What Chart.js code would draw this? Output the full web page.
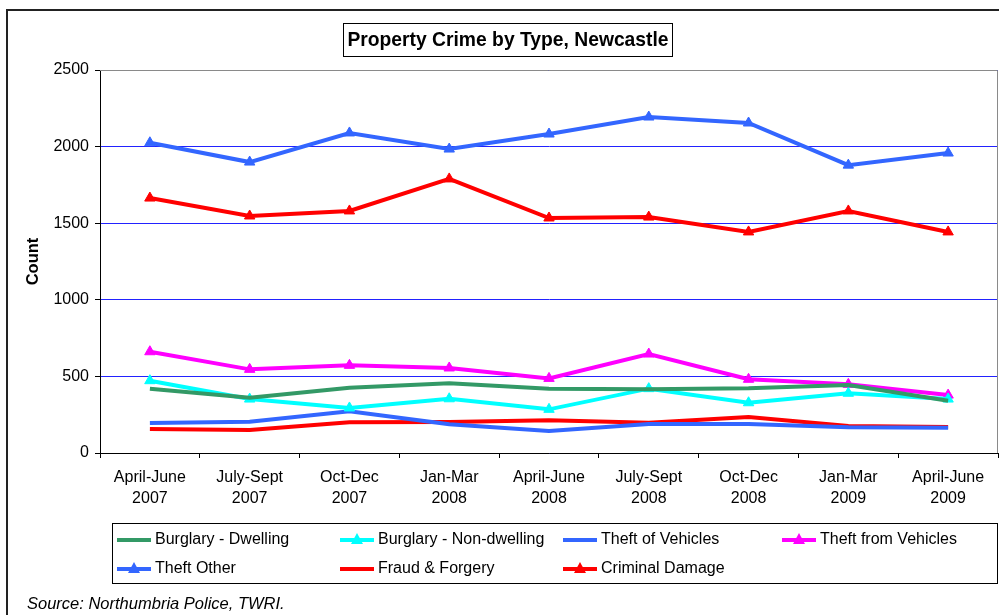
<!DOCTYPE html>
<html>
<head>
<meta charset="utf-8">
<script src="https://cdn.jsdelivr.net/npm/chart.js@4"></script>
<style>
  html, body { margin: 0; padding: 0; background: #fff; }
  #wrap { width: 999px; height: 615px; }
</style>
</head>
<body>
<div id="wrap"><canvas id="crimeChart" width="999" height="615"></canvas></div>
<script>
// Data
const quarters = [
  ["April-June", "2007"], ["July-Sept", "2007"], ["Oct-Dec", "2007"],
  ["Jan-Mar", "2008"], ["April-June", "2008"], ["July-Sept", "2008"],
  ["Oct-Dec", "2008"], ["Jan-Mar", "2009"], ["April-June", "2009"]
];
const burglaryDwelling = [420, 361, 426, 455, 420, 416, 422, 444, 341];
const burglaryNonDwelling = [472, 352, 294, 354, 285, 420, 328, 390, 352];
const theftOfVehicles = [196, 204, 272, 187, 144, 189, 189, 168, 165];
const theftFromVehicles = [661, 546, 572, 555, 487, 646, 481, 448, 378];
const theftOther = [2025, 1899, 2089, 1984, 2082, 2193, 2154, 1879, 1958];
const fraudForgery = [157, 150, 200, 202, 213, 198, 235, 176, 170];
const criminalDamage = [1664, 1547, 1580, 1789, 1534, 1540, 1443, 1580, 1443];
const yTicks = [0, 500, 1000, 1500, 2000, 2500];

const titleText = "Property Crime by Type, Newcastle";
const sourceText = "Source: Northumbria Police, TWRI.";
const FONT = "'Liberation Sans', Arial, sans-serif";

function series(label, data, color, marker) {
  return {
    label: label,
    data: data,
    borderColor: color,
    backgroundColor: color,
    borderWidth: 4,
    pointStyle: marker ? "triangle" : false,
    pointRadius: marker ? 6 : 0,
    pointHoverRadius: marker ? 6 : 0,
    pointBorderWidth: 1,
    tension: 0,
    fill: false
  };
}

const datasets = [
  series("Burglary - Dwelling", burglaryDwelling, "#339966", false),
  series("Burglary - Non-dwelling", burglaryNonDwelling, "#00ffff", true),
  series("Theft of Vehicles", theftOfVehicles, "#3366ff", false),
  series("Theft from Vehicles", theftFromVehicles, "#ff00ff", true),
  series("Theft Other", theftOther, "#3366ff", true),
  series("Fraud & Forgery", fraudForgery, "#ff0000", false),
  series("Criminal Damage", criminalDamage, "#ff0000", true)
];

// legend slots: column line start x, row y
const legendCols = [117, 340, 563, 782];
const legendRows = [540, 569];

// frame, title box, plot border, legend and source line
const decorations = {
  id: "decorations",
  beforeDraw(chart) {
    const ctx = chart.ctx;
    ctx.save();
    ctx.fillStyle = "#fff";
    ctx.fillRect(0, 0, chart.width, chart.height);
    ctx.restore();
  },
  afterDraw(chart) {
    const ctx = chart.ctx;
    const area = chart.chartArea;
    ctx.save();

    // outer frame
    ctx.strokeStyle = "#222";
    ctx.lineWidth = 2;
    ctx.beginPath();
    ctx.moveTo(7, 615);
    ctx.lineTo(7, 10);
    ctx.lineTo(999, 10);
    ctx.stroke();

    // plot area border top / right
    ctx.strokeStyle = "#8a8a8a";
    ctx.lineWidth = 1;
    ctx.beginPath();
    ctx.moveTo(area.left, area.top + 0.5);
    ctx.lineTo(area.right - 0.5, area.top + 0.5);
    ctx.lineTo(area.right - 0.5, area.bottom);
    ctx.stroke();

    // title
    ctx.font = "bold 19.3px " + FONT;
    ctx.fillStyle = "#000";
    ctx.textAlign = "center";
    ctx.textBaseline = "middle";
    ctx.fillText(titleText, 508, 41);
    ctx.strokeStyle = "#000";
    ctx.strokeRect(343.5, 23.5, 329, 33);

    // legend box
    ctx.strokeStyle = "#000";
    ctx.strokeRect(112.5, 523.5, 885, 60);
    ctx.font = "16px " + FONT;
    ctx.textAlign = "left";
    chart.data.datasets.forEach((ds, i) => {
      const x = legendCols[i % 4];
      const y = legendRows[Math.floor(i / 4)];
      ctx.strokeStyle = ds.borderColor;
      ctx.lineWidth = 4;
      ctx.beginPath();
      ctx.moveTo(x, y);
      ctx.lineTo(x + 34, y);
      ctx.stroke();
      if (ds.pointStyle) {
        ctx.fillStyle = ds.borderColor;
        ctx.beginPath();
        ctx.moveTo(x + 17, y - 7);
        ctx.lineTo(x + 23, y + 4);
        ctx.lineTo(x + 11, y + 4);
        ctx.closePath();
        ctx.fill();
      }
      ctx.fillStyle = "#000";
      ctx.fillText(ds.label, x + 38, y);
    });

    // source
    ctx.font = "italic 16.5px " + FONT;
    ctx.fillStyle = "#000";
    ctx.fillText(sourceText, 27, 604);
    ctx.restore();
  }
};

new Chart(document.getElementById("crimeChart"), {
  type: "line",
  data: { labels: quarters, datasets: datasets },
  options: {
    responsive: false,
    animation: false,
    layout: { autoPadding: false, padding: { top: 70, left: 7, right: 1, bottom: 92 } },
    plugins: {
      legend: { display: false },
      title: { display: false },
      tooltip: { enabled: false }
    },
    scales: {
      x: {
        offset: true,
        grid: { display: true, drawOnChartArea: false, offset: true, tickLength: 5, color: "#000" },
        border: { color: "#000", width: 1 },
        ticks: {
          color: "#000",
          font: { family: FONT, size: 16, lineHeight: 1.3 },
          padding: 9,
          maxRotation: 0,
          autoSkip: false
        },
        afterFit(scale) {
          scale.height = 70;
          scale.paddingLeft = 0;
          scale.paddingRight = 0;
        }
      },
      y: {
        min: 0,
        max: 2500,
        afterBuildTicks(scale) { scale.ticks = yTicks.map(v => ({ value: v })); },
        grid: { color: "#2222ff", lineWidth: 1, tickLength: 5, tickColor: "#000" },
        border: { color: "#000", width: 1 },
        ticks: {
          color: "#000",
          font: { family: FONT, size: 16 },
          padding: 6,
          callback: v => String(v)
        },
        title: {
          display: true,
          text: "Count",
          color: "#000",
          font: { family: FONT, size: 16.5, weight: "bold" },
          padding: { top: 17, bottom: 0 }
        },
        afterFit(scale) { scale.width = 93; }
      }
    }
  },
  plugins: [decorations]
});
</script>
</body>
</html>
